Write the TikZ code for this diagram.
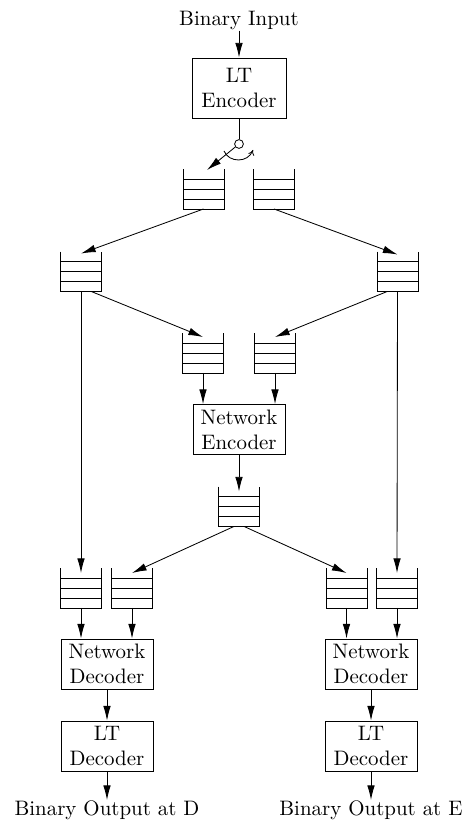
\documentclass[tikz,border=0pt]{standalone}
\usetikzlibrary{arrows.meta,calc}
\begin{document}
\begin{tikzpicture}[x=0.478pt,y=-0.478pt,
  >={Latex[length=7pt,width=3.6pt]},
  box/.style={draw, align=center, inner xsep=3.33pt, inner ysep=2pt, minimum width=44pt, minimum height=23.9pt},
  queue/.style={minimum width=19.6pt, minimum height=19.1pt, inner sep=0pt, outer sep=0pt},
  lbl/.style={inner sep=0pt}]
\useasboundingbox (0,0) rectangle (465,820);

% text and boxes
\node[lbl] (in) at (239,21) {Binary Input};
\node[box, minimum width=45pt, minimum height=28.7pt] (enc) at (239,88) {LT\\Encoder};
\node[circle, draw, inner sep=0pt, minimum size=4.2pt] (sw) at (239,144) {};
\coordinate (swtip) at (207,170);
\coordinate (rotA) at (224,151);
\coordinate (rotB) at (253,150);

\node[queue] (q1) at (203.5,189) {};
\node[queue] (q2) at (274,189) {};
\node[queue] (q3) at (81,271.5) {};
\node[queue] (q4) at (397.5,271.5) {};
\node[queue] (q5) at (203,353) {};
\node[queue] (q6) at (275,353) {};
\node[queue] (q7) at (239,506.5) {};
\node[queue] (q8) at (81,588) {};
\node[queue] (q9) at (132,588) {};
\node[queue] (q10) at (346.5,588) {};
\node[queue] (q11) at (397,588) {};

\node[box] (nenc) at (239,429.5) {Network\\Encoder};
\node[box] (ndecL) at (107,664) {Network\\Decoder};
\node[box] (ltdL) at (107,746) {LT\\Decoder};
\node[box] (ndecR) at (371,664) {Network\\Decoder};
\node[box] (ltdR) at (371,746) {LT\\Decoder};
\node[lbl, anchor=north] (outD) at (107,800) {Binary Output at D};
\node[lbl, anchor=north] (outE) at (371,800) {Binary Output at E};

% queue shapes
\foreach \i in {1,...,11} {
  \draw (q\i.north west) -- (q\i.south west) -- (q\i.south east) -- (q\i.north east);
  \foreach \f in {0.25,0.5,0.75}
    \draw ($(q\i.south west)!\f!(q\i.north west)$) -- ($(q\i.south east)!\f!(q\i.north east)$);
}

% switch
\draw[->] (in) -- (enc);
\draw (enc) -- (sw);
\draw[->] (sw) -- (swtip);
\draw[-{To[length=2.5pt,width=3pt]}] (rotA) .. controls (229,163) and (248,163) .. (rotB);

% connectors
\draw[->] (q1.south) -- ($(q3.north)+(0,2)$);
\draw[->] (q2.south) -- ($(q4.north)+(0,3)$);
\draw[->] ($(q3.south)!0.5!(q3.south east)$) -- ($(q5.north)+(0,4)$);
\draw[->] ($(q4.south)!0.5!(q4.south west)$) -- ($(q6.north)+(0,4)$);
\draw[->] (q3.south) -- ($(q8.north)+(0,5)$);
\draw[->] (q4.south) -- ($(q11.north)+(0,5)$);
\draw[->] (q5.south) -- (q5.south |- nenc.north);
\draw[->] (q6.south) -- (q6.south |- nenc.north);
\draw[->] (nenc) -- ($(q7.north)+(0,5)$);
\draw[->] ($(q7.south)!0.25!(q7.south west)$) -- ($(q9.north)+(0,5)$);
\draw[->] ($(q7.south)!0.25!(q7.south east)$) -- ($(q10.north)+(0,5)$);
\draw[->] (q8.south) -- (q8.south |- ndecL.north);
\draw[->] (q9.south) -- (q9.south |- ndecL.north);
\draw[->] (q10.south) -- (q10.south |- ndecR.north);
\draw[->] (q11.south) -- (q11.south |- ndecR.north);
\draw[->] (ndecL) -- (ltdL);
\draw[->] (ltdL) -- (outD);
\draw[->] (ndecR) -- (ltdR);
\draw[->] (ltdR) -- (outE);
\end{tikzpicture}
\end{document}
